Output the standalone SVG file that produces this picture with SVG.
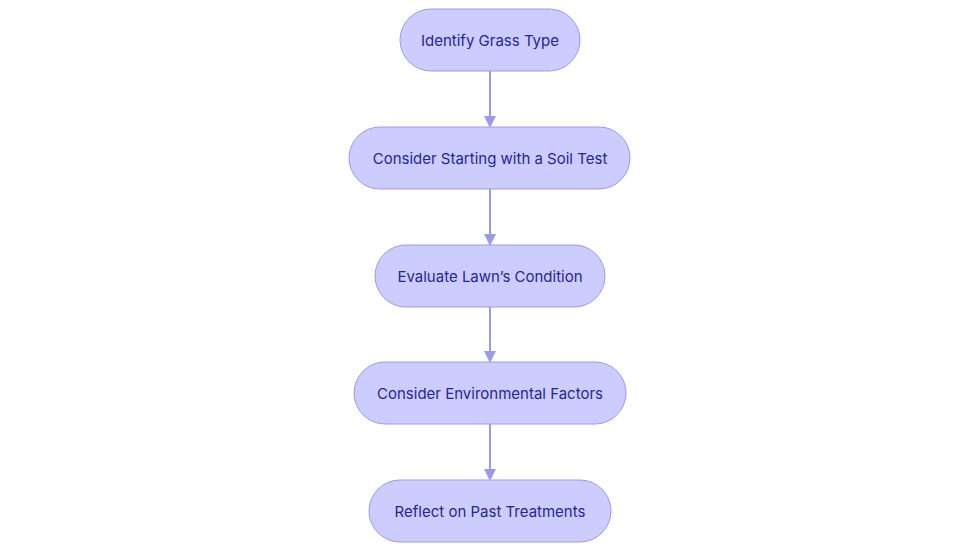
<svg xmlns="http://www.w3.org/2000/svg" width="980" height="553" viewBox="0 0 980 553">
<style>
.n rect{fill:#ccccff;stroke:#9a9aeb;stroke-width:1}
.n text{font-family:Inter,"Noto Sans",sans-serif;font-size:15px;fill:#1f2699;text-anchor:middle;dominant-baseline:central}
.c line{stroke:#9a9aeb;stroke-width:2;marker-end:url(#a)}
</style>
<defs><marker id="a" markerWidth="12" markerHeight="12" refX="10" refY="6" orient="auto" markerUnits="userSpaceOnUse"><path d="M0,0L12,6L0,12z" fill="#9a9aeb"/></marker></defs>
<rect width="980" height="553" fill="#fff"/>
<g class="c">
<line x1="490" y1="71" x2="490" y2="126"/>
<line x1="490" y1="189" x2="490" y2="244"/>
<line x1="490" y1="307" x2="490" y2="361"/>
<line x1="490" y1="424" x2="490" y2="479"/>
</g>
<g id="n1" class="n"><rect x="400" y="9" width="180" height="62" rx="31"/><text x="490" y="40">Identify Grass Type</text></g>
<g id="n2" class="n"><rect x="349" y="127" width="281" height="62" rx="31"/><text x="490" y="158">Consider Starting with a Soil Test</text></g>
<g id="n3" class="n"><rect x="375" y="245" width="230" height="62" rx="31"/><text x="490" y="276">Evaluate Lawn’s Condition</text></g>
<g id="n4" class="n"><rect x="354" y="362" width="272" height="62" rx="31"/><text x="490" y="393">Consider Environmental Factors</text></g>
<g id="n5" class="n"><rect x="369" y="480" width="242" height="62" rx="31"/><text x="490" y="511">Reflect on Past Treatments</text></g>
</svg>
